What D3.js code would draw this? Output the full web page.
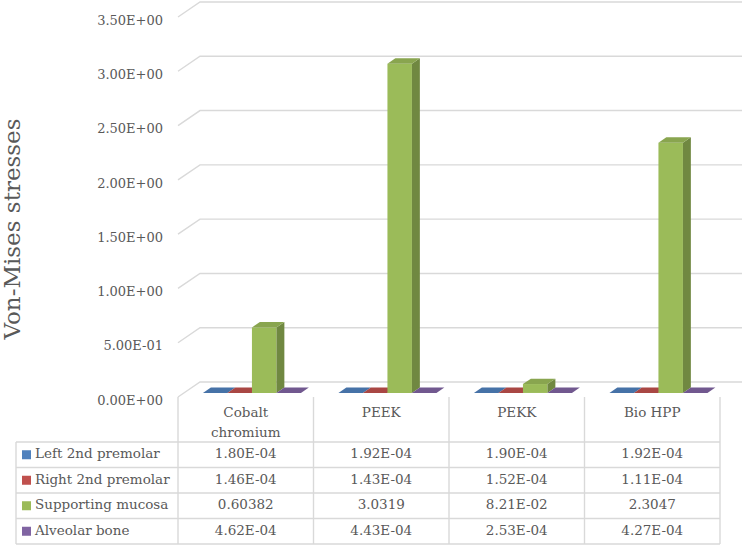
<!DOCTYPE html>
<html>
<head>
<meta charset="utf-8">
<script src="https://cdn.jsdelivr.net/npm/d3@7/dist/d3.min.js"></script>
<style>
  body { margin: 0; background: #fff; }
  svg { display: block; font-family: "DejaVu Serif", serif; }
</style>
</head>
<body>
<svg width="744" height="546"></svg>
<script>
// data
var categories = ["Cobalt chromium", "PEEK", "PEKK", "Bio HPP"];
var headerLines = [["Cobalt", "chromium"], ["PEEK"], ["PEKK"], ["Bio HPP"]];
var seriesNames = ["Left 2nd premolar", "Right 2nd premolar", "Supporting mucosa", "Alveolar bone"];
var leftPremolar = ["1.80E-04", "1.92E-04", "1.90E-04", "1.92E-04"];
var rightPremolar = ["1.46E-04", "1.43E-04", "1.52E-04", "1.11E-04"];
var supportingMucosa = ["0.60382", "3.0319", "8.21E-02", "2.3047"];
var alveolarBone = ["4.62E-04", "4.43E-04", "2.53E-04", "4.27E-04"];
var colors = ["#4f81bd", "#c0504d", "#9bbb59", "#8064a2"];
var yTicks = [0, 0.5, 1, 1.5, 2, 2.5, 3, 3.5];
var yTickLabels = ["0.00E+00", "5.00E-01", "1.00E+00", "1.50E+00", "2.00E+00", "2.50E+00", "3.00E+00", "3.50E+00"];

var seriesValues = [leftPremolar, rightPremolar, supportingMucosa, alveolarBone];

var svg = d3.select("svg"),
	left = 178, right = 720,
	DX = 22, DY = -15,          // depth of the floor / back wall
	f0 = 0.27, f1 = 0.63,       // bar depth, as fraction of the floor depth
	tableLeft = 16,
	rowTops = [442, 467.5, 493, 518.5, 544],
	headerTop = 397,
	textColor = "#595959",
	gridColor = "#d9d9d9";

var x = d3.scaleBand().domain(categories).range([left, right]);
var xs = d3.scaleBand().domain(seriesNames).range([19, 117]);
var y = d3.scaleLinear().domain([0, 3.5]).range([397, 17]);

// gridlines: diagonal on the left wall then across the back wall
svg.append("g").selectAll("path")
	.data(yTicks)
	.enter().append("path")
	.attr("d", function(t) {
		var yy = y(t);
		return "M" + left + "," + yy + "L" + (left + DX) + "," + (yy + DY) + "L" + (right + DX) + "," + (yy + DY);
	})
	.attr("fill", "none")
	.attr("stroke", gridColor)
	.attr("stroke-width", 1.4);

// y axis labels
var yAxis = svg.append("g")
	.attr("transform", "translate(" + (left - 8) + ",3)")
	.call(d3.axisLeft(y).tickValues(yTicks).tickSize(0).tickPadding(7)
		.tickFormat(function(d, i) { return yTickLabels[i]; }));
yAxis.select(".domain").remove();
yAxis.selectAll("text")
	.attr("fill", textColor)
	.style("font-size", "13px")
	.style("font-family", "DejaVu Serif, serif");

// axis title
svg.append("text")
	.attr("transform", "translate(20,229) rotate(-90)")
	.attr("text-anchor", "middle")
	.attr("fill", textColor)
	.style("font-size", "23px")
	.text("Von-Mises stresses");

// 3d bars
var bars = [];
categories.forEach(function(c, ci) {
	seriesNames.forEach(function(s, si) {
		bars.push({cat: c, series: s, si: si, value: +seriesValues[si][ci]});
	});
});

var ddx = (f1 - f0) * DX, ddy = (f1 - f0) * DY;
var barG = svg.append("g");
bars.forEach(function(d) {
	var x0 = x(d.cat) + xs(d.series) + f0 * DX,
		x1 = x0 + xs.bandwidth(),
		yb = y(0) + f0 * DY,
		yt = y(d.value) + f0 * DY,
		base = d3.color(colors[d.si]);
	var g = barG.append("g");
	g.append("path")
		.attr("d", "M" + x0 + "," + yt + "L" + x1 + "," + yt + "L" + x1 + "," + yb + "L" + x0 + "," + yb + "Z")
		.attr("fill", base.formatHex());
	g.append("path")
		.attr("d", "M" + x1 + "," + yt + "L" + (x1 + ddx) + "," + (yt + ddy) + "L" + (x1 + ddx) + "," + (yb + ddy) + "L" + x1 + "," + yb + "Z")
		.attr("fill", base.darker(0.9).formatHex());
	g.append("path")
		.attr("d", "M" + x0 + "," + yt + "L" + x1 + "," + yt + "L" + (x1 + ddx) + "," + (yt + ddy) + "L" + (x0 + ddx) + "," + (yt + ddy) + "Z")
		.attr("fill", base.darker(0.35).formatHex());
});

// data table
var table = svg.append("g").attr("stroke", gridColor).attr("stroke-width", 1.4);
var bounds = categories.map(function(c) { return x(c); }).concat([right]);
table.selectAll(".v")
	.data(bounds)
	.enter().append("line")
	.attr("x1", function(d) { return d; })
	.attr("x2", function(d) { return d; })
	.attr("y1", headerTop)
	.attr("y2", rowTops[rowTops.length - 1]);
table.append("line")
	.attr("x1", tableLeft).attr("x2", tableLeft)
	.attr("y1", rowTops[0]).attr("y2", rowTops[rowTops.length - 1]);
table.selectAll(".h")
	.data(rowTops)
	.enter().append("line")
	.attr("x1", tableLeft).attr("x2", right)
	.attr("y1", function(d) { return d; })
	.attr("y2", function(d) { return d; });

// header text
var header = svg.append("g").attr("fill", textColor).style("font-size", "13.5px");
headerLines.forEach(function(lines, ci) {
	var cx = x(categories[ci]) + x.bandwidth() / 2;
	lines.forEach(function(l, li) {
		header.append("text")
			.attr("x", cx)
			.attr("y", 413 + li * 20)
			.attr("text-anchor", "middle")
			.attr("dominant-baseline", "middle")
			.text(l);
	});
});

// rows: legend key, series name, values
var rows = svg.append("g").attr("fill", textColor).style("font-size", "13.5px");
seriesNames.forEach(function(s, si) {
	var cy = (rowTops[si] + rowTops[si + 1]) / 2;
	rows.append("rect")
		.attr("x", 22).attr("y", cy - 4.5)
		.attr("width", 9).attr("height", 9)
		.attr("fill", colors[si]);
	rows.append("text")
		.attr("x", 35).attr("y", cy)
		.attr("dominant-baseline", "middle")
		.text(s);
	categories.forEach(function(c, ci) {
		rows.append("text")
			.attr("x", x(c) + x.bandwidth() / 2)
			.attr("y", cy)
			.attr("text-anchor", "middle")
			.attr("dominant-baseline", "middle")
			.text(seriesValues[si][ci]);
	});
});
</script>
</body>
</html>
